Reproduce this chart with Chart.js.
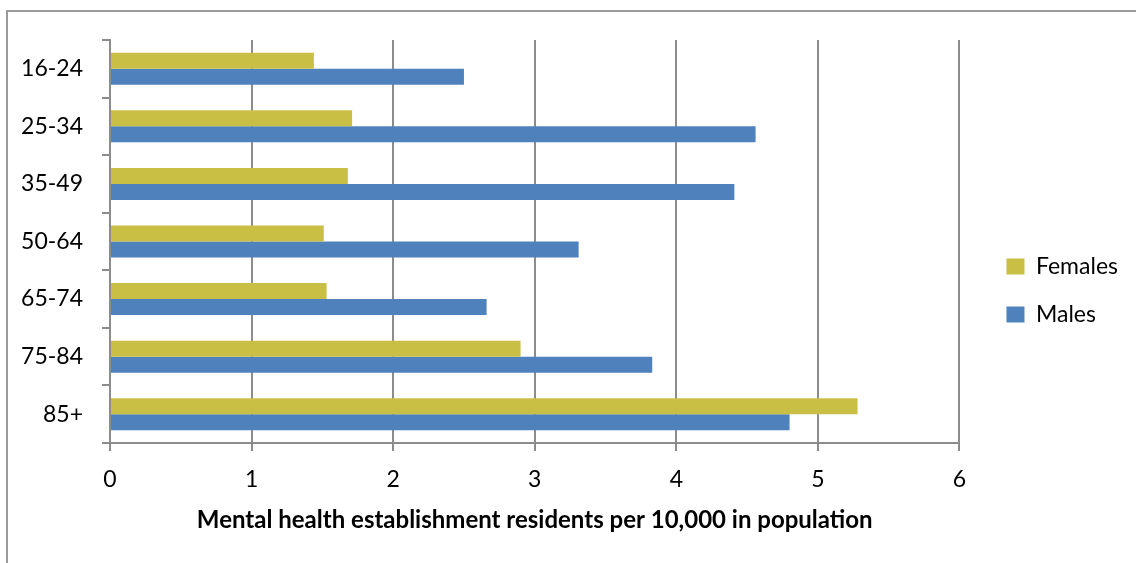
<!DOCTYPE html>
<html>
<head>
<meta charset="utf-8">
<script src="https://cdn.jsdelivr.net/npm/chart.js@4"></script>
<style>
  html, body { margin: 0; padding: 0; background: #fff; }
  #wrap { position: relative; width: 1136px; height: 563px; overflow: hidden; }
  #frame { position: absolute; left: 6px; top: 10px; width: 1200px; height: 600px; border: 2px solid #9a9a9a; }
  #chart { position: absolute; left: 0; top: 0; }
</style>
</head>
<body>
<div id="wrap">
  <div id="frame"></div>
  <canvas id="chart" width="1136" height="563"></canvas>
</div>
<script>
const ageGroups = ["16-24", "25-34", "35-49", "50-64", "65-74", "75-84", "85+"];
const females = [1.44, 1.71, 1.68, 1.51, 1.53, 2.90, 5.28];
const males = [2.50, 4.56, 4.41, 3.31, 2.66, 3.83, 4.80];
const xTicks = [0, 1, 2, 3, 4, 5, 6];

const gridGrey = "#8c8c8c";
const font = "Lato, 'Open Sans', sans-serif";

// move the legend a little away from the plot
const legendNudge = {
  id: "legendNudge",
  afterLayout(chart) {
    const lg = chart.legend;
    lg.left += 22;
    lg.right += 22;
    lg.top -= 11;
    lg.bottom -= 11;
  },
};

new Chart(document.getElementById("chart"), {
  type: "bar",
  data: {
    labels: ageGroups,
    datasets: [
      {
        label: "Females",
        data: females,
        backgroundColor: "#c9bf45",
        categoryPercentage: 0.556,
        barPercentage: 1,
      },
      {
        label: "Males",
        data: males,
        backgroundColor: "#4f81bd",
        categoryPercentage: 0.556,
        barPercentage: 1,
      },
    ],
  },
  plugins: [legendNudge],
  options: {
    indexAxis: "y",
    responsive: false,
    animation: false,
    layout: { padding: { top: 40, left: 0, right: 30, bottom: 0 } },
    plugins: {
      tooltip: { enabled: false },
      legend: {
        position: "right",
        labels: {
          boxWidth: 18,
          boxHeight: 16,
          padding: 25,
          color: "#000",
          font: { family: font, size: 23 },
        },
      },
    },
    scales: {
      x: {
        min: 0,
        max: 6,
        afterFit: (scale) => { scale.height = 120; },
        afterBuildTicks: (scale) => { scale.ticks = xTicks.map((v) => ({ value: v })); },
        grid: { color: gridGrey, lineWidth: 2, tickLength: 8 },
        border: { color: gridGrey, width: 2 },
        ticks: { color: "#000", padding: 15, font: { family: font, size: 23 } },
        title: {
          display: true,
          text: "Mental health establishment residents per 10,000 in population",
          color: "#000",
          font: { family: font, size: 24, weight: "bold" },
          padding: { top: 0, bottom: 28 },
        },
      },
      y: {
        afterFit: (scale) => { scale.width = 110; },
        grid: { offset: true, drawOnChartArea: false, color: gridGrey, lineWidth: 2, tickLength: 8 },
        border: { color: gridGrey, width: 2 },
        ticks: { color: "#000", padding: 19, font: { family: font, size: 23 } },
      },
    },
  },
});
</script>
</body>
</html>
